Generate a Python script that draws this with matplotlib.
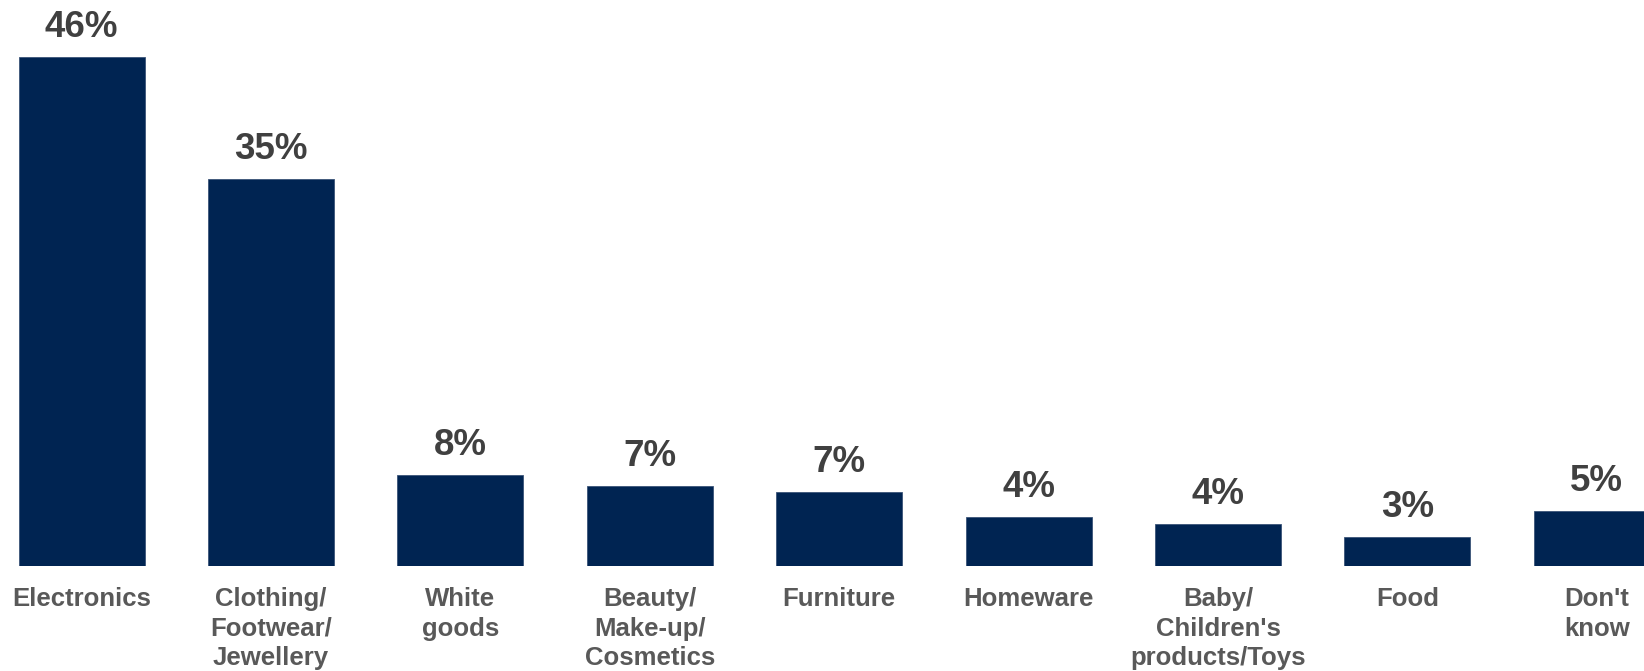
import numpy as np
import matplotlib.pyplot as plt

plt.rcParams['font.family'] = ['Liberation Sans', 'DejaVu Sans']

# categories and shares (%)
categories = ["Electronics", "Clothing/\nFootwear/\nJewellery", "White\ngoods",
              "Beauty/\nMake-up/\nCosmetics", "Furniture", "Homeware",
              "Baby/\nChildren's\nproducts/Toys", "Food", "Don't\nknow"]
shares = [46.0, 35.0, 8.2, 7.2, 6.7, 4.4, 3.8, 2.6, 5.0]

fig = plt.figure(figsize=(16.44, 6.71), dpi=100)
ax = fig.add_axes([0, 0.1565, 1, 0.824])

x = np.arange(len(categories))
bars = ax.bar(x, shares, width=0.665, color='#002452', edgecolor='#3a5478', linewidth=0.6)

# value labels above the bars
for xi, v in zip(x, shares):
    ax.annotate(f"{v:.0f}%", (xi, v), xytext=(0, 14.4), textcoords='offset points',
                ha='center', va='baseline', fontsize=26.5, fontweight='bold', color='#404040')

ax.set_xticks(x)
ax.set_xticklabels(categories, fontsize=18.5, fontweight='bold', color='#595959',
                   linespacing=1.3)
ax.tick_params(axis='x', length=0, pad=15)
ax.set_yticks([])
ax.set_xlim(-0.431, 8.249)
ax.set_ylim(0, 50)
for s in ax.spines.values():
    s.set_visible(False)

fig.savefig('out.png', dpi=100)
